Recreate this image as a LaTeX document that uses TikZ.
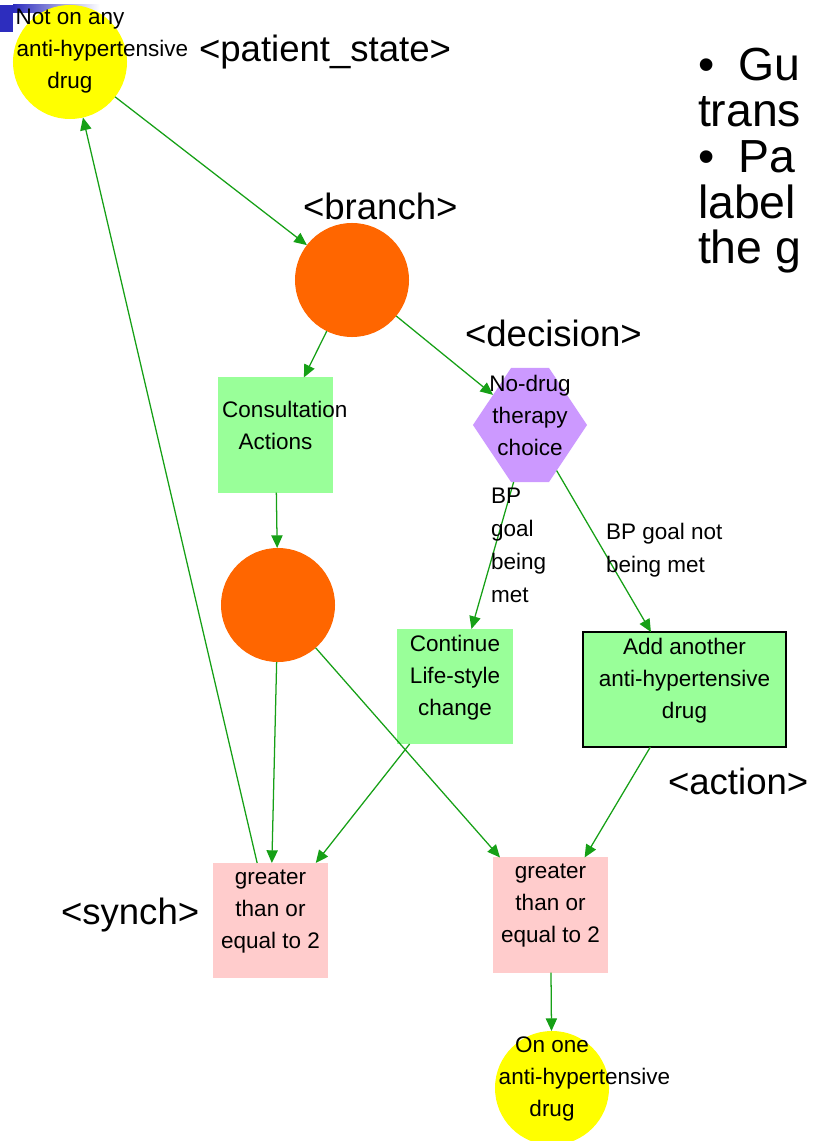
\documentclass[tikz,border=0pt]{standalone}
\usepackage{fontspec}
\setmainfont{Liberation Sans}
\usetikzlibrary{shapes.symbols,arrows.meta}

\definecolor{stateyellow}{HTML}{FFFF00}
\definecolor{branchorange}{HTML}{FF6600}
\definecolor{actiongreen}{HTML}{99FF99}
\definecolor{decisionpurple}{HTML}{CC99FF}
\definecolor{synchpink}{HTML}{FFCCCC}
\definecolor{arcgreen}{HTML}{16A016}
\definecolor{slideblue}{HTML}{2D2DBE}

% a line that is wider than its shape starts at the shape's left edge
\newcommand{\spill}[2][2.85cm]{\makebox[#1][l]{#2}}
% bullet of the slide text
\newcommand{\slidebullet}{\textbullet\hspace{0.6cm}}

\begin{document}
\begin{tikzpicture}[x=0.025cm, y=-0.025cm,
    every node/.style={inner sep=0, outer sep=0},
    state/.style={circle, fill=stateyellow, minimum size=2.85cm},
    branch/.style={circle, fill=branchorange, minimum size=2.85cm},
    action/.style={rectangle, fill=actiongreen, minimum width=2.875cm, minimum height=2.875cm},
    decision/.style={signal, signal to=east and west, signal pointer angle=112.6, fill=decisionpurple,
        minimum width=2.85cm, minimum height=2.85cm},
    synch/.style={rectangle, fill=synchpink, minimum width=2.875cm, minimum height=2.875cm},
    inside/.style={font=\fontsize{16}{22.8}\selectfont, align=center, yshift=6.5pt},
    arc/.style={draw=arcgreen, line width=0.9pt, -{Triangle[length=9pt, width=8pt]}},
    arclabel/.style={font=\fontsize{16}{23.4}\selectfont, align=left, anchor=north west},
    tag/.style={font=\fontsize{26}{30}\selectfont, anchor=base west},
    bullets/.style={font=\fontsize{33}{32.7}\selectfont, align=left, anchor=base west}]

  \useasboundingbox (0,0) rectangle (812,1141);

  % Draw the corner of the slide
  \fill[slideblue] (0,5) rectangle (13,32);
  \shade[left color=slideblue, right color=white] (13,5) rectangle (100,13);

  % Draw the states
  \node[state, label={[inside, yshift=1pt]center:{Not on any\\\spill{\,anti-hypertensive}\\drug}}] (notany) at (70,62) {};
  \node[state, label={[inside]center:{On one\\\spill{\,anti-hypertensive}\\drug}}] (onone) at (552,1088) {};

  % Draw the branches
  \node[branch] (branchA) at (352,280) {};
  \node[branch] (branchB) at (278,605) {};

  % Draw the decision
  \node[decision, label={[inside]center:{No-drug\\therapy\\choice}}] (choice) at (530,425) {};

  % Draw the actions
  \node[action, label={[inside]center:{\spill{\,Consultation}\\Actions}}] (consult) at (275.5,435) {};
  \node[action, label={[inside]center:{Continue\\Life-style\\change}}] (lifestyle) at (455,686.5) {};
  \node[action, draw=black, line width=1pt, minimum width=5.075cm,
        label={[inside]center:{Add another\\anti-hypertensive\\drug}}] (addone) at (684.5,689.5) {};

  % Draw the synchs
  \node[synch, label={[inside]center:{greater\\than or\\equal to 2}}] (synchA) at (270.5,920.5) {};
  \node[synch, label={[inside]center:{greater\\than or\\equal to 2}}] (synchB) at (550.5,915) {};

  % Draw the arcs
  \draw[arc] (notany) -- (branchA);
  \draw[arc] (branchA) -- (consult);
  \draw[arc] (branchA) -- (choice);
  \draw[arc] (consult) -- (branchB);
  \draw[arc] (choice) -- (lifestyle);
  \draw[arc] (choice) -- (addone);
  \draw[arc] (branchB) -- (synchA);
  \draw[arc] (branchB) -- (synchB);
  \draw[arc] (lifestyle) -- (synchA);
  \draw[arc] (addone) -- (synchB);
  \draw[arc] (synchA) -- (notany);
  \draw[arc] (synchB) -- (onone);

  % Labels on the arcs
  \node[arclabel] (metlabel) at (491,488) {BP\\goal\\being\\met};
  \node[arclabel] (notmetlabel) at (606,523) {BP goal not\\being met};

  % Tags of the element kinds
  \node[tag] (statetag) at (199,62) {<patient\_state>};
  \node[tag] (branchtag) at (303,220) {<branch>};
  \node[tag] (decisiontag) at (465,347) {<decision>};
  \node[tag] (actiontag) at (668,794) {<action>};
  \node[tag] (synchtag) at (61,924) {<synch>};

  % Slide text, cut at the right
  \node[bullets] (slidetext) at (698,264) {\slidebullet Gu\\trans\\\slidebullet Pa\\label\\the g};

\end{tikzpicture}
\end{document}
